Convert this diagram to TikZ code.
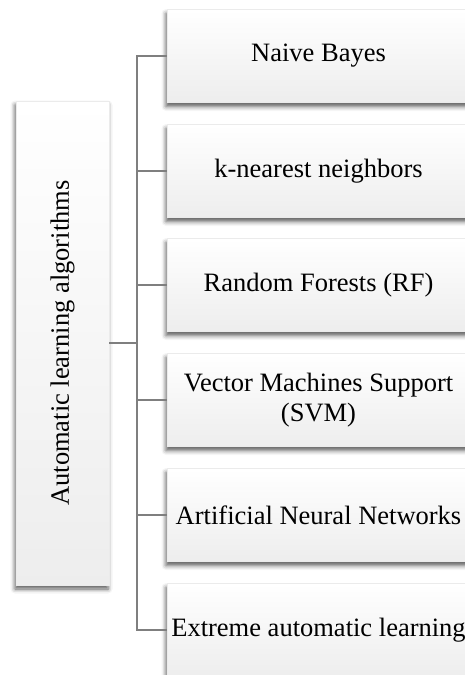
\documentclass[tikz,border=0pt]{standalone}
\usepackage{fontspec}
\usepackage{graphicx}
\setmainfont{Liberation Serif}
\usetikzlibrary{shadows.blur}
\definecolor{linkgray}{HTML}{7F7F7F}
\begin{document}
\begin{tikzpicture}[x=1pt,y=-1pt,
  box/.style={rectangle, draw=gray!16, line width=0.6pt,
    top color=white, bottom color=gray!14,
    blur shadow={shadow xshift=-1pt, shadow yshift=-4pt,
      shadow blur radius=4.5pt, shadow opacity=65},
    inner sep=0pt, align=center, font=\fontsize{26.5}{30}\selectfont},
  leaf/.style={box, minimum width=303pt, minimum height=93pt},
  link/.style={draw=linkgray, line width=2pt}]
  \useasboundingbox (0,0) rectangle (465,675);
  \clip (0,0) rectangle (465,675);

  % root box with vertical title
  \node[box, minimum width=93pt, minimum height=484pt] (root) at (62.5,343)
    {\rotatebox{90}{Automatic learning algorithms}};

  % algorithm boxes
  \node[leaf] (b1) at (318.5,56)  {Naive Bayes};
  \node[leaf] (b2) at (318.5,171) {k-nearest neighbors};
  \node[leaf] (b3) at (318.5,285) {Random Forests (RF)};
  \node[leaf] (b4) at (318.5,400) {Vector Machines Support\\(SVM)};
  \node[leaf] (b5) at (318.5,515) {Artificial Neural Networks};
  \node[leaf] (b6) at (318.5,630) {Extreme automatic learning};

  % tree connectors
  \coordinate (j) at (137,343);
  \draw[link] (root.east) -- (j);
  \foreach \b in {b1,b2,b3,b4,b5,b6}
    \draw[link] (j) |- (\b.west);
\end{tikzpicture}
\end{document}
